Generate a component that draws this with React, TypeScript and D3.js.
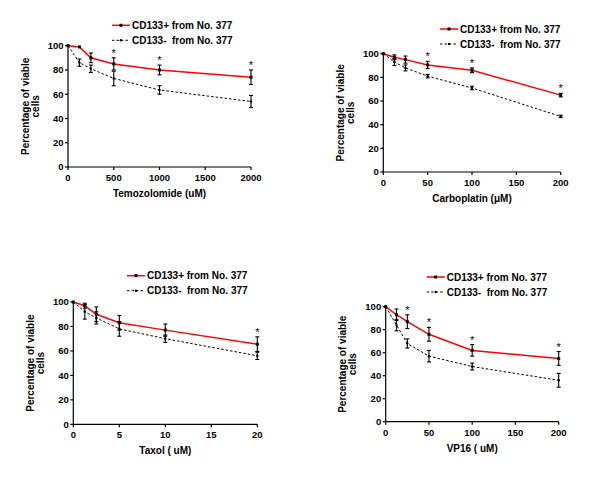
import React from 'react'
import * as d3 from 'd3'

// panel titles / axes
const xTitles = ['Temozolomide (uM)', 'Carboplatin (\u03BCM)', 'Taxol ( uM)', 'VP16 ( uM)']
const legendLabels = ['CD133+ from No. 377', 'CD133-  from No. 377']
const yTicks = [0, 20, 40, 60, 80, 100]

// doses
const temoDose = [0, 125, 250, 500, 1000, 2000]
const carboDose = [0, 12.5, 25, 50, 100, 200]
const taxolDose = [0, 1.25, 2.5, 5, 10, 20]
const vpDose = [0, 12.5, 25, 50, 100, 200]

// x ticks
const temoTicks = [0, 500, 1000, 1500, 2000]
const carboTicks = [0, 50, 100, 150, 200]
const taxolTicks = [0, 5, 10, 15, 20]
const vpTicks = [0, 50, 100, 150, 200]

// CD133+ (red) mean / sd
const temoPos = [100, 99, 90, 85, 80, 74]
const temoPosSd = [0, 0, 4, 5, 4, 6]
const carboPos = [100, 97, 95, 90.5, 86, 65]
const carboPosSd = [0, 2, 3, 3, 2, 1.5]
const taxolPos = [100, 97, 90, 83, 77, 65.5]
const taxolPosSd = [0, 2, 6, 6, 5, 6]
const vpPos = [100, 93, 87, 76, 62, 55]
const vpPosSd = [0, 5, 6, 6, 5, 6]

// CD133- (black dashed) mean / sd
const temoNeg = [100, 86, 81, 73, 63.5, 54]
const temoNegSd = [0, 3, 3, 6, 3.5, 5]
const carboNeg = [100, 93, 88, 81, 71, 47]
const carboNegSd = [0, 3, 2.5, 1.5, 1.5, 1]
const taxolNeg = [100, 92, 87, 78, 70, 56]
const taxolNegSd = [0, 6, 5, 6, 3, 3]
const vpNeg = [100, 84, 68, 57, 48, 36]
const vpNegSd = [0, 5, 4, 5, 3, 6]

// which doses carry a significance star
const temoStar = [false, false, false, true, true, true]
const carboStar = [false, false, false, true, true, true]
const taxolStar = [false, false, false, false, false, true]
const vpStar = [false, false, true, true, true, true]

const font = 'Liberation Sans, Arial, sans-serif'

type PanelProps = {
  x0: number, x1: number, yTop: number, yBot: number, legX: number, legY: number,
  dose: number[], ticks: number[], pos: number[], posSd: number[], neg: number[], negSd: number[],
  star: boolean[], title: string
}

function Panel(p: PanelProps) {
  const x = d3.scaleLinear().domain([0, p.ticks[p.ticks.length - 1]]).range([p.x0, p.x1])
  const y = d3.scaleLinear().domain([0, 100]).range([p.yBot, p.yTop])
  const line = d3.line<number>().x((d, i) => x(p.dose[i])).y(d => y(d))
  const midY = (p.yTop + p.yBot) / 2

  const errBars = (vals: number[], sds: number[], key: string) =>
    vals.map((v, i) => sds[i] > 0 && (
      <g key={key + i} stroke="#000" strokeWidth={1.1}>
        <line x1={x(p.dose[i])} x2={x(p.dose[i])} y1={y(v - sds[i])} y2={y(v + sds[i])} />
        <line x1={x(p.dose[i]) - 2} x2={x(p.dose[i]) + 2} y1={y(v - sds[i])} y2={y(v - sds[i])} />
        <line x1={x(p.dose[i]) - 2} x2={x(p.dose[i]) + 2} y1={y(v + sds[i])} y2={y(v + sds[i])} />
      </g>
    ))

  return (
    <g fontFamily={font} fontWeight="bold">
      {/* legend */}
      <line x1={p.legX} x2={p.legX + 18} y1={p.legY} y2={p.legY} stroke="#f00" strokeWidth={1.5} />
      <rect x={p.legX + 7.5} y={p.legY - 1.5} width={3} height={3} fill="#000" />
      <text x={p.legX + 20} y={p.legY + 3.5} fontSize={10}>{legendLabels[0]}</text>
      <line x1={p.legX} x2={p.legX + 18} y1={p.legY + 15} y2={p.legY + 15} stroke="#000" strokeWidth={1} strokeDasharray="2.5,2" />
      <circle cx={p.legX + 9} cy={p.legY + 15} r={1.2} fill="#000" />
      <text x={p.legX + 20} y={p.legY + 18.5} fontSize={10} xmlSpace="preserve" style={{ whiteSpace: 'pre' }}>{legendLabels[1]}</text>

      {/* axes */}
      <line x1={p.x0} x2={p.x0} y1={p.yTop} y2={p.yBot} stroke="#000" strokeWidth={1.2} />
      <line x1={p.x0} x2={p.x1} y1={p.yBot} y2={p.yBot} stroke="#000" strokeWidth={1.2} />
      {yTicks.map(t => (
        <g key={'y' + t}>
          <line x1={p.x0 - 3} x2={p.x0} y1={y(t)} y2={y(t)} stroke="#000" strokeWidth={1.2} />
          <text x={p.x0 - 4.5} y={y(t) + 3.4} fontSize={9.5} textAnchor="end">{t}</text>
        </g>
      ))}
      {p.ticks.map(t => (
        <g key={'x' + t}>
          <line x1={x(t)} x2={x(t)} y1={p.yBot} y2={p.yBot + 3} stroke="#000" strokeWidth={1.2} />
          <text x={x(t)} y={p.yBot + 14} fontSize={9.5} textAnchor="middle">{t}</text>
        </g>
      ))}
      <text x={(p.x0 + p.x1) / 2} y={p.yBot + 30} fontSize={10} textAnchor="middle">{p.title}</text>
      <text transform={`translate(${p.x0 - 39.5},${midY}) rotate(-90)`} fontSize={10} textAnchor="middle">Percentage of viable</text>
      <text transform={`translate(${p.x0 - 29.5},${midY}) rotate(-90)`} fontSize={10} textAnchor="middle">cells</text>

      {/* series */}
      <path d={line(p.neg) || ''} fill="none" stroke="#000" strokeWidth={1} strokeDasharray="2.5,2" />
      <path d={line(p.pos) || ''} fill="none" stroke="#f00" strokeWidth={1.5} />
      {errBars(p.neg, p.negSd, 'n')}
      {errBars(p.pos, p.posSd, 'p')}
      {p.pos.map((v, i) => (
        <rect key={'m' + i} x={x(p.dose[i]) - 1.5} y={y(v) - 1.5} width={3} height={3} fill="#000" />
      ))}
      {p.neg.map((v, i) => (
        <circle key={'c' + i} cx={x(p.dose[i])} cy={y(v)} r={1.2} fill="#000" />
      ))}
      {p.star.map((s, i) => s && (
        <text key={'s' + i} x={x(p.dose[i])} y={y(p.pos[i] + p.posSd[i]) - 1} fontSize={11} fontWeight="normal" textAnchor="middle">*</text>
      ))}
    </g>
  )
}

export default function App() {
  return (
    <svg width={600} height={478} style={{ position: 'absolute', left: 0, top: 0, background: '#fff' }}>
      <Panel x0={68} x1={251} yTop={45.7} yBot={167} legX={112} legY={25.3}
        dose={temoDose} ticks={temoTicks} pos={temoPos} posSd={temoPosSd} neg={temoNeg} negSd={temoNegSd}
        star={temoStar} title={xTitles[0]} />
      <Panel x0={383.3} x1={560.7} yTop={53.7} yBot={172} legX={440} legY={29}
        dose={carboDose} ticks={carboTicks} pos={carboPos} posSd={carboPosSd} neg={carboNeg} negSd={carboNegSd}
        star={carboStar} title={xTitles[1]} />
      <Panel x0={73.3} x1={257.3} yTop={302} yBot={424.3} legX={127} legY={275.7}
        dose={taxolDose} ticks={taxolTicks} pos={taxolPos} posSd={taxolPosSd} neg={taxolNeg} negSd={taxolNegSd}
        star={taxolStar} title={xTitles[2]} />
      <Panel x0={385.7} x1={558.7} yTop={306.7} yBot={421.7} legX={426.7} legY={277}
        dose={vpDose} ticks={vpTicks} pos={vpPos} posSd={vpPosSd} neg={vpNeg} negSd={vpNegSd}
        star={vpStar} title={xTitles[3]} />
    </svg>
  )
}
